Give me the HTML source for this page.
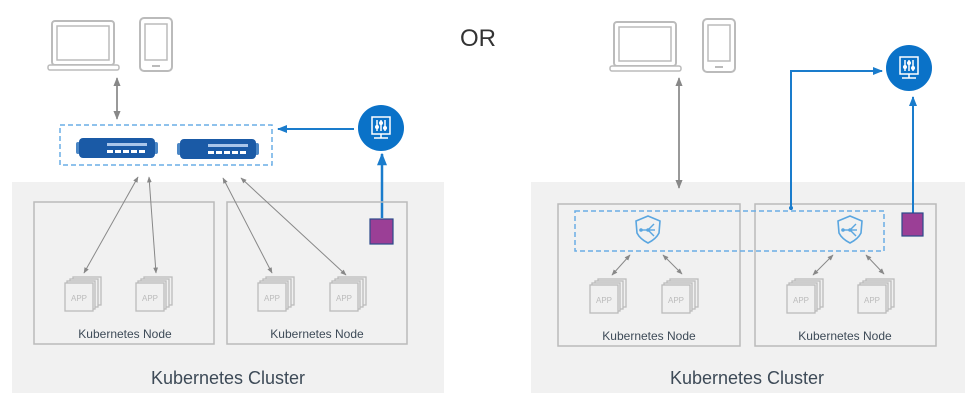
<!DOCTYPE html>
<html><head><meta charset="utf-8"><style>
html,body{margin:0;padding:0;background:#fff;}
svg{display:block;font-family:"Liberation Sans",Arial,sans-serif;}
</style></head><body>
<svg width="975" height="406" viewBox="0 0 975 406" xmlns="http://www.w3.org/2000/svg">
<defs>
<marker id="ga" viewBox="0 0 10 10" refX="9" refY="5" markerWidth="6" markerHeight="6" orient="auto-start-reverse"><path d="M0,1 L10,5 L0,9 z" fill="#888"/></marker>
<marker id="ba" viewBox="0 0 10 10" refX="9" refY="5" markerWidth="5" markerHeight="5" orient="auto-start-reverse"><path d="M0,1 L10,5 L0,9 z" fill="#1a7ccc"/></marker>
<g id="laptop"><rect x="4" y="0" width="62" height="44" rx="3" fill="#fff" stroke="#bbb" stroke-width="2"/><rect x="9" y="5" width="52" height="34" fill="none" stroke="#bbb" stroke-width="1.5"/><rect x="0" y="44" width="71" height="5" rx="2" fill="#fff" stroke="#bbb" stroke-width="1.5"/></g>
<g id="phone"><rect x="0" y="0" width="32" height="53" rx="4" fill="#fff" stroke="#bbb" stroke-width="2"/><rect x="5" y="6" width="22" height="36" fill="none" stroke="#bbb" stroke-width="1.5"/><rect x="12" y="47" width="8" height="2" fill="#bbb"/></g>
<g id="app"><rect x="8" y="0" width="28" height="28" fill="#f0f0f0" stroke="#bbb" stroke-width="1.3"/><rect x="5" y="2" width="28" height="28" fill="#f0f0f0" stroke="#bbb" stroke-width="1.3"/><rect x="2" y="4" width="28" height="28" fill="#f0f0f0" stroke="#bbb" stroke-width="1.3"/><rect x="0" y="6" width="28" height="28" fill="#f0f0f0" stroke="#bbb" stroke-width="1.3"/><text x="14" y="24" font-size="8" fill="#bbb" text-anchor="middle">APP</text></g>
<g id="sw"><rect x="-3" y="4" width="4" height="12" rx="2" fill="#4a86c5"/><rect x="75" y="4" width="4" height="12" rx="2" fill="#4a86c5"/><rect x="0" y="0" width="76" height="20" rx="4" fill="#1a5aa6"/><rect x="28" y="5" width="40" height="3" fill="#a9c6ea"/><rect x="28" y="12" width="6" height="3" fill="#fff"/><rect x="36" y="12" width="6" height="3" fill="#fff"/><rect x="44" y="12" width="6" height="3" fill="#fff"/><rect x="52" y="12" width="6" height="3" fill="#fff"/><rect x="60" y="12" width="6" height="3" fill="#fff"/></g>
<g id="circ"><circle r="23" fill="#0a72c8"/><rect x="-9" y="-11" width="18" height="17" fill="none" stroke="#fff" stroke-width="1.5"/><line x1="-4" y1="-8" x2="-4" y2="3" stroke="#fff" stroke-width="1.5"/><line x1="0" y1="-8" x2="0" y2="3" stroke="#fff" stroke-width="1.5"/><line x1="4" y1="-8" x2="4" y2="3" stroke="#fff" stroke-width="1.5"/><circle cx="-4" cy="-1" r="2" fill="#fff"/><circle cx="0" cy="-5" r="2" fill="#fff"/><circle cx="4" cy="0" r="2" fill="#fff"/><line x1="0" y1="6" x2="0" y2="10" stroke="#fff" stroke-width="1.5"/><line x1="-7" y1="10" x2="7" y2="10" stroke="#fff" stroke-width="1.5"/></g>
<g id="shield"><path d="M0,-13 L12,-8 L11,4 Q8,10 0,14 Q-8,10 -11,4 L-12,-8 Z" fill="none" stroke="#5aa6e0" stroke-width="1.6"/><line x1="-7" y1="1" x2="7" y2="1" stroke="#5aa6e0" stroke-width="1.4"/><line x1="0" y1="1" x2="6" y2="-5" stroke="#5aa6e0" stroke-width="1.4"/><line x1="0" y1="1" x2="6" y2="7" stroke="#5aa6e0" stroke-width="1.4"/><circle cx="-7" cy="1" r="1.8" fill="#5aa6e0"/><circle cx="0" cy="1" r="1.8" fill="#5aa6e0"/></g>
</defs>

<!-- clusters -->
<rect x="12" y="182" width="432" height="211" fill="#f1f1f1"/>
<rect x="531" y="182" width="434" height="211" fill="#f1f1f1"/>
<text x="228" y="384" font-size="18" fill="#3d4a57" text-anchor="middle">Kubernetes Cluster</text>
<text x="747" y="384" font-size="18" fill="#3d4a57" text-anchor="middle">Kubernetes Cluster</text>

<text x="478" y="46" font-size="24" fill="#333" text-anchor="middle">OR</text>

<!-- LEFT -->
<use href="#laptop" x="48" y="21"/>
<use href="#phone" x="140" y="18"/>
<line x1="117" y1="78" x2="117" y2="119" stroke="#777" stroke-width="1.5" marker-start="url(#ga)" marker-end="url(#ga)"/>
<rect x="60" y="125" width="212" height="40" fill="none" stroke="#6aaee6" stroke-width="1.5" stroke-dasharray="5,3"/>
<use href="#sw" x="79" y="138"/>
<use href="#sw" x="180" y="139"/>
<use href="#circ" x="381" y="128"/>
<line x1="354" y1="129" x2="278" y2="129" stroke="#1a7ccc" stroke-width="2" marker-end="url(#ba)"/>
<line x1="382" y1="218" x2="382" y2="154" stroke="#1a7ccc" stroke-width="2.5" marker-end="url(#ba)"/>

<rect x="34" y="202" width="180" height="142" fill="none" stroke="#bbb" stroke-width="1.5"/>
<rect x="227" y="202" width="180" height="142" fill="none" stroke="#bbb" stroke-width="1.5"/>
<rect x="370" y="219" width="23" height="25" fill="#9b3f96" stroke="#2b4a8a" stroke-width="1.2"/>
<use href="#app" x="65" y="277"/>
<use href="#app" x="136" y="277"/>
<use href="#app" x="258" y="277"/>
<use href="#app" x="330" y="277"/>
<line x1="84" y1="273" x2="138" y2="177" stroke="#888" stroke-width="1" marker-start="url(#ga)" marker-end="url(#ga)"/>
<line x1="156" y1="273" x2="149" y2="177" stroke="#888" stroke-width="1" marker-start="url(#ga)" marker-end="url(#ga)"/>
<line x1="272" y1="273" x2="223" y2="178" stroke="#888" stroke-width="1" marker-start="url(#ga)" marker-end="url(#ga)"/>
<line x1="346" y1="275" x2="241" y2="178" stroke="#888" stroke-width="1" marker-start="url(#ga)" marker-end="url(#ga)"/>
<text x="125" y="338" font-size="12" fill="#3d4a57" text-anchor="middle">Kubernetes Node</text>
<text x="317" y="338" font-size="12" fill="#3d4a57" text-anchor="middle">Kubernetes Node</text>

<!-- RIGHT -->
<use href="#laptop" x="610" y="22"/>
<use href="#phone" x="703" y="19"/>
<line x1="679" y1="188" x2="679" y2="78" stroke="#777" stroke-width="1.5" marker-start="url(#ga)" marker-end="url(#ga)"/>
<rect x="558" y="204" width="182" height="142" fill="none" stroke="#bbb" stroke-width="1.5"/>
<rect x="755" y="204" width="181" height="142" fill="none" stroke="#bbb" stroke-width="1.5"/>
<rect x="575" y="211" width="309" height="40" fill="none" stroke="#6aaee6" stroke-width="1.5" stroke-dasharray="5,3"/>
<use href="#shield" x="648" y="229"/>
<use href="#shield" x="850" y="229"/>
<use href="#circ" x="909" y="68"/>
<polyline points="791,210 791,71 882,71" fill="none" stroke="#1a7ccc" stroke-width="2" marker-end="url(#ba)"/>
<circle cx="791" cy="208" r="2" fill="#1a7ccc"/>
<line x1="913" y1="213" x2="913" y2="97" stroke="#1a7ccc" stroke-width="2" marker-end="url(#ba)"/>
<rect x="902" y="213" width="21" height="23" fill="#9b3f96" stroke="#2b4a8a" stroke-width="1.2"/>
<use href="#app" x="590" y="279"/>
<use href="#app" x="662" y="279"/>
<use href="#app" x="787" y="279"/>
<use href="#app" x="858" y="279"/>
<line x1="612" y1="275" x2="630" y2="255" stroke="#888" stroke-width="1" marker-start="url(#ga)" marker-end="url(#ga)"/>
<line x1="663" y1="255" x2="682" y2="274" stroke="#888" stroke-width="1" marker-start="url(#ga)" marker-end="url(#ga)"/>
<line x1="813" y1="275" x2="833" y2="255" stroke="#888" stroke-width="1" marker-start="url(#ga)" marker-end="url(#ga)"/>
<line x1="866" y1="255" x2="884" y2="274" stroke="#888" stroke-width="1" marker-start="url(#ga)" marker-end="url(#ga)"/>
<text x="649" y="340" font-size="12" fill="#3d4a57" text-anchor="middle">Kubernetes Node</text>
<text x="845" y="340" font-size="12" fill="#3d4a57" text-anchor="middle">Kubernetes Node</text>
</svg>
</body></html>
